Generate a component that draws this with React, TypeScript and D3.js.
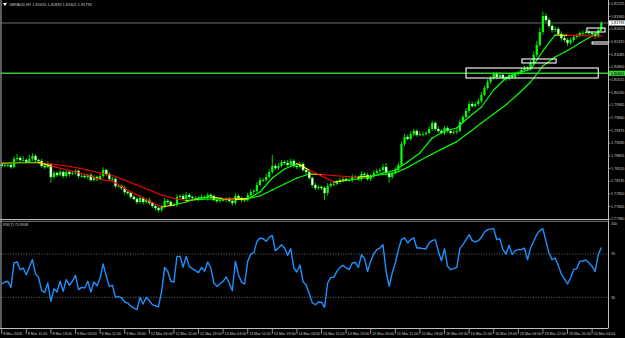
import React from 'react';
import * as d3 from 'd3';

const W = 625;
const H = 338;

const symbolTitle = 'GBPAUD,H1';
const rsiTitle = 'RSI(7)';

const timeLabels = [
  '8 Mar 2018', '8 Mar 11:00', '8 Mar 19:00', '9 Mar 03:00', '9 Mar 11:00', '9 Mar 19:00',
  '12 Mar 03:00', '12 Mar 11:00', '12 Mar 19:00', '13 Mar 03:00', '13 Mar 11:00', '13 Mar 19:00',
  '14 Mar 03:00', '14 Mar 11:00', '14 Mar 19:00', '15 Mar 03:00', '15 Mar 11:00', '15 Mar 19:00',
  '16 Mar 03:00', '16 Mar 11:00', '16 Mar 19:00', '19 Mar 04:00', '19 Mar 12:00', '19 Mar 20:00',
  '20 Mar 04:00',
];
const barsPerTimeLabel = 8;

const priceTicks = [
  1.77380, 1.77665, 1.77950, 1.78235, 1.78520, 1.78805, 1.79090, 1.79375, 1.79660,
  1.79945, 1.80230, 1.80515, 1.80800, 1.81085, 1.81370, 1.81655, 1.81940, 1.82225,
];

const rsiLevels = [70, 30];
const rsiAxisLabels = [100, 70, 30];

const firstOpen = 1.78620;
const closes = [
  1.78575, 1.78598, 1.78598, 1.78553, 1.78733, 1.78755, 1.78710, 1.78710, 1.78665, 1.78733,
  1.78800, 1.78710, 1.78688, 1.78575, 1.78553, 1.78620, 1.78328, 1.78418, 1.78373, 1.78440,
  1.78350, 1.78440, 1.78395, 1.78418, 1.78463, 1.78350, 1.78350, 1.78328, 1.78373, 1.78260,
  1.78328, 1.78283, 1.78350, 1.78485, 1.78395, 1.78283, 1.78283, 1.78125, 1.78125, 1.78080,
  1.77990, 1.77968, 1.77878, 1.77833, 1.77765, 1.77855, 1.77765, 1.77810, 1.77743, 1.77675,
  1.77630, 1.77585, 1.77653, 1.77788, 1.77765, 1.77698, 1.77698, 1.77878, 1.77900, 1.77833,
  1.77923, 1.77878, 1.77855, 1.77855, 1.77833, 1.77878, 1.77855, 1.77923, 1.77900, 1.77810,
  1.77788, 1.77810, 1.77810, 1.77833, 1.77788, 1.77743, 1.77900, 1.77855, 1.77810, 1.77810,
  1.77923, 1.77990, 1.78013, 1.78148, 1.78260, 1.78260, 1.78328, 1.78440, 1.78575, 1.78530,
  1.78575, 1.78665, 1.78643, 1.78598, 1.78688, 1.78575, 1.78553, 1.78620, 1.78485, 1.78440,
  1.78305, 1.78148, 1.78080, 1.78103, 1.78080, 1.77968, 1.78125, 1.78170, 1.78170, 1.78215,
  1.78260, 1.78283, 1.78260, 1.78260, 1.78328, 1.78328, 1.78283, 1.78395, 1.78373, 1.78283,
  1.78350, 1.78418, 1.78463, 1.78485, 1.78553, 1.78418, 1.78328, 1.78418, 1.78485, 1.78598,
  1.79070, 1.79228, 1.79183, 1.79295, 1.79363, 1.79273, 1.79295, 1.79295, 1.79318, 1.79408,
  1.79543, 1.79408, 1.79363, 1.79318, 1.79430, 1.79363, 1.79318, 1.79340, 1.79363, 1.79565,
  1.79678, 1.79813, 1.79970, 1.79925, 1.79970, 1.80038, 1.80173, 1.80330, 1.80465, 1.80555,
  1.80645, 1.80578, 1.80623, 1.80555, 1.80533, 1.80623, 1.80578, 1.80645, 1.80668, 1.80735,
  1.80780, 1.80758, 1.80893, 1.81073, 1.81298, 1.81590, 1.81950, 1.81860, 1.81725, 1.81635,
  1.81658, 1.81545, 1.81455, 1.81410, 1.81343, 1.81410, 1.81478, 1.81500, 1.81568, 1.81568,
  1.81590, 1.81568, 1.81545, 1.81500, 1.81635, 1.81793,
];

// wick lengths in pips beyond the candle body
const PIP = 0.0001;
const wickUpPips = [
  4, 5, 3, 4, 6, 9, 5, 8, 4, 10,
  6, 4, 3, 5, 4, 6, 3, 5, 4, 6,
  3, 5, 4, 6, 4, 3, 5, 4, 3, 5,
  4, 3, 5, 6, 3, 4, 5, 3, 4, 3,
  5, 4, 3, 5, 4, 6, 3, 4, 5, 3,
  4, 3, 5, 7, 4, 3, 5, 6, 4, 5,
  7, 4, 3, 5, 4, 6, 3, 5, 4, 3,
  4, 5, 3, 4, 5, 3, 6, 4, 3, 4,
  5, 6, 4, 7, 6, 5, 8, 6, 25, 5,
  6, 5, 4, 7, 5, 4, 6, 5, 4, 3,
  4, 3, 5, 4, 3, 4, 6, 4, 5, 4,
  5, 4, 3, 6, 5, 4, 3, 6, 4, 5,
  4, 6, 5, 4, 7, 9, 4, 5, 6, 5,
  6, 7, 5, 6, 5, 4, 6, 5, 4, 6,
  5, 4, 6, 4, 5, 4, 3, 5, 4, 6,
  5, 7, 6, 5, 4, 6, 7, 5, 6, 4,
  5, 4, 6, 4, 5, 4, 6, 5, 4, 5,
  6, 4, 7, 8, 9, 10, 10, 6, 5, 4,
  5, 4, 6, 5, 4, 5, 4, 5, 4, 6,
  4, 5, 4, 3, 5, 4,
];
const wickDnPips = [
  4, 3, 5, 4, 3, 4, 5, 3, 4, 3,
  4, 5, 3, 4, 5, 3, 13, 4, 5, 3,
  5, 4, 6, 3, 4, 5, 3, 4, 5, 3,
  4, 5, 3, 4, 5, 6, 4, 5, 3, 4,
  6, 5, 4, 3, 5, 4, 6, 4, 5, 4,
  6, 5, 4, 3, 5, 4, 3, 5, 4, 3,
  4, 5, 3, 4, 5, 3, 4, 6, 4, 3,
  5, 4, 3, 5, 4, 6, 4, 3, 5, 4,
  4, 3, 5, 4, 3, 5, 4, 3, 4, 5,
  4, 3, 5, 4, 3, 4, 5, 3, 4, 5,
  4, 6, 5, 4, 5, 16, 6, 4, 5, 3,
  4, 5, 3, 4, 5, 3, 4, 5, 3, 4,
  5, 4, 3, 5, 4, 6, 13, 4, 3, 5,
  4, 5, 3, 4, 5, 4, 3, 5, 4, 3,
  4, 5, 4, 3, 5, 4, 3, 4, 5, 3,
  4, 3, 5, 4, 3, 4, 5, 3, 4, 5,
  4, 5, 3, 4, 5, 4, 3, 5, 4, 3,
  4, 5, 3, 4, 5, 4, 6, 5, 4, 6,
  5, 4, 6, 5, 7, 4, 5, 4, 3, 5,
  4, 5, 4, 6, 4, 3,
];

// moving averages sampled every 4 bars (last sample on the last bar)
const maSampleStep = 4;
const maFast = [
  1.78631, 1.78643, 1.78654, 1.78658, 1.78575, 1.78508, 1.78440, 1.78373, 1.78271, 1.78238,
  1.78069, 1.77923, 1.77788, 1.77653, 1.77698, 1.77765, 1.77855, 1.77878, 1.77844, 1.77821,
  1.77833, 1.77990, 1.78305, 1.78508, 1.78631, 1.78485, 1.78350, 1.78215, 1.78249, 1.78283,
  1.78328, 1.78418, 1.78485, 1.78665, 1.78868, 1.79205, 1.79363, 1.79430, 1.79678, 1.79903,
  1.80285, 1.80555, 1.80679, 1.80746, 1.81163, 1.81523, 1.81516, 1.81509, 1.81500, 1.81496,
];
const maSlow = [
  1.78654, 1.78652, 1.78647, 1.78640, 1.78620, 1.78586, 1.78541, 1.78485, 1.78418, 1.78361,
  1.78260, 1.78148, 1.78035, 1.77923, 1.77844, 1.77799, 1.77821, 1.77833, 1.77833, 1.77828,
  1.77844, 1.77900, 1.78035, 1.78170, 1.78305, 1.78395, 1.78384, 1.78361, 1.78339, 1.78328,
  1.78350, 1.78384, 1.78418, 1.78544, 1.78697, 1.78845, 1.78989, 1.79124, 1.79329, 1.79543,
  1.79745, 1.79954, 1.80195, 1.80465, 1.80825, 1.81028, 1.81174, 1.81343, 1.81500, 1.81635,
];

const rsi = [
  42.3, 44.1, 44.8, 39.2, 61.7, 62.6, 55.5, 57.0, 50.9, 58.0,
  64.8, 51.5, 48.4, 36.1, 34.6, 43.2, 26.3, 38.0, 34.9, 44.8,
  35.5, 46.3, 41.1, 44.8, 50.3, 37.1, 39.2, 38.6, 44.8, 34.9,
  44.1, 40.7, 47.8, 60.8, 49.4, 40.1, 41.1, 30.0, 30.9, 29.4,
  25.7, 24.7, 21.7, 20.0, 18.6, 30.0, 23.8, 30.0, 26.9, 23.2,
  22.0, 21.3, 35.5, 57.7, 54.0, 44.8, 44.1, 67.8, 67.8, 57.7,
  67.8, 58.6, 56.5, 54.6, 52.8, 57.7, 54.0, 62.6, 57.1, 43.2,
  40.1, 42.5, 44.8, 48.8, 43.2, 36.1, 63.2, 50.9, 44.1, 42.3,
  63.2, 70.0, 71.0, 81.7, 84.8, 84.2, 81.7, 85.4, 87.2, 73.1,
  75.5, 78.6, 75.5, 68.8, 74.9, 57.1, 53.4, 59.8, 44.5, 41.4,
  33.5, 25.0, 23.2, 25.7, 25.5, 20.7, 43.2, 48.4, 48.4, 54.0,
  57.7, 59.5, 57.1, 55.5, 61.7, 62.2, 57.7, 69.4, 65.7, 54.0,
  63.2, 70.0, 74.0, 75.5, 78.6, 54.0, 40.1, 52.4, 61.7, 74.0,
  83.2, 84.8, 80.2, 83.2, 84.8, 75.5, 75.5, 74.9, 74.9, 80.2,
  82.3, 83.2, 72.5, 63.8, 74.9, 58.6, 55.5, 56.5, 57.7, 74.9,
  78.6, 83.2, 87.9, 82.3, 81.1, 82.3, 85.4, 90.3, 92.5, 93.0,
  93.4, 83.2, 84.2, 74.0, 70.0, 78.0, 69.4, 73.1, 74.0, 74.0,
  75.5, 64.8, 75.5, 81.7, 87.9, 91.6, 93.4, 81.7, 70.9, 64.8,
  66.3, 59.5, 51.5, 47.0, 42.3, 47.8, 55.5, 56.5, 63.2, 63.5,
  64.5, 61.7, 58.6, 54.0, 69.4, 75.9308,
];

const levelPrice = 1.80661;
// rectangles: [startBar, endBar, topPrice, bottomPrice]
const rectangles = [
  [151.0, 194.0, 1.80780, 1.80555],
  [169.2, 180.3, 1.80983, 1.80893],
  [190.3, 196.2, 1.81680, 1.81590],
  [192.0, 197.4, 1.81365, 1.81320],
];

const FONT = "'Liberation Sans', Arial, sans-serif";
const TXT = '#c8c8c8';
const LIME = '#00ff00';

function maSegments(values: number[], n: number) {
  const bars = values.map((_, i) => Math.min(i * maSampleStep, n - 1));
  const segs: { b0: number; b1: number; v0: number; v1: number; color: string }[] = [];
  let prevSign = 0;
  for (let i = 1; i < values.length; i++) {
    const d = values[i] - values[i - 1];
    const sign = d >= 0 ? 1 : -1;
    let color = sign > 0 ? LIME : '#ff0000';
    if (prevSign !== 0 && sign !== prevSign) color = '#ffff00';
    segs.push({ b0: bars[i - 1], b1: bars[i], v0: values[i - 1], v1: values[i], color });
    prevSign = sign;
  }
  return segs;
}

export default function App() {
  const n = closes.length;
  const axisX = 608.5;
  const mainBottom = 219;
  const rsiTop = 221;
  const rsiBottom = 328;

  const x = d3.scaleLinear().domain([0, n - 1]).range([1.7, 1.7 + 3.075 * (n - 1)]);
  const y = d3.scaleLinear().domain([1.773825, 1.8231]).range([mainBottom, 0]);
  const yr = d3.scaleLinear().domain([0, 100]).range([329.8, 221.5]);

  const opens = closes.map((c, i) => (i === 0 ? firstOpen : closes[i - 1]));
  const last = n - 1;
  const lastHigh = Math.max(opens[last], closes[last]) + wickUpPips[last] * PIP;
  const lastLow = Math.min(opens[last], closes[last]) - wickDnPips[last] * PIP;
  const header = `${symbolTitle}  ${opens[last].toFixed(5)} ${lastHigh.toFixed(5)} ${lastLow.toFixed(5)} ${closes[last].toFixed(5)}`;
  const bid = closes[last];

  const rsiLine = d3
    .line<number>()
    .x((_, i) => x(i))
    .y((d) => yr(d));

  const fastSegs = maSegments(maFast, n);
  const slowSegs = maSegments(maSlow, n);

  return (
    <svg width={W} height={H} style={{ position: 'absolute', left: 0, top: 0, background: '#000' }}>
      <defs>
        <clipPath id="mainClip">
          <rect x={0} y={0} width={axisX} height={mainBottom} />
        </clipPath>
        <clipPath id="rsiClip">
          <rect x={0} y={rsiTop + 0.5} width={axisX} height={rsiBottom - rsiTop - 0.5} />
        </clipPath>
      </defs>
      <rect x={0} y={0} width={W} height={H} fill="#000" />

      {/* main window */}
      <g clipPath="url(#mainClip)">
        <line x1={0} x2={axisX} y1={y(bid)} y2={y(bid)} stroke="#8c8c8c" strokeWidth={0.8} />
        <line x1={0} x2={axisX} y1={y(levelPrice)} y2={y(levelPrice)} stroke="#32cd32" strokeWidth={1.5} />
        {closes.map((c, i) => {
          const o = opens[i];
          const hi = Math.max(o, c) + wickUpPips[i] * PIP;
          const lo = Math.min(o, c) - wickDnPips[i] * PIP;
          const cx = x(i);
          const top = y(Math.max(o, c));
          const bot = y(Math.min(o, c));
          const bull = c >= o;
          return (
            <g key={i}>
              <line x1={cx} x2={cx} y1={y(hi)} y2={y(lo)} stroke={LIME} strokeWidth={0.8} />
              <rect
                x={cx - 1.1}
                y={top}
                width={2.2}
                height={Math.max(0.8, bot - top)}
                fill={bull ? LIME : '#ffffff'}
                stroke={bull ? 'none' : LIME}
                strokeWidth={0.4}
              />
            </g>
          );
        })}
        {slowSegs.map((s, i) => (
          <line key={'s' + i} x1={x(s.b0)} x2={x(s.b1)} y1={y(s.v0)} y2={y(s.v1)} stroke={s.color} strokeWidth={1.2} strokeLinecap="round" />
        ))}
        {fastSegs.map((s, i) => (
          <line key={'f' + i} x1={x(s.b0)} x2={x(s.b1)} y1={y(s.v0)} y2={y(s.v1)} stroke={s.color} strokeWidth={1.2} strokeLinecap="round" />
        ))}
        {rectangles.map((r, i) => (
          <rect
            key={'r' + i}
            x={x(r[0])}
            y={y(r[2])}
            width={x(r[1]) - x(r[0])}
            height={y(r[3]) - y(r[2])}
            fill="none"
            stroke="#ffffff"
            strokeWidth={1.1}
          />
        ))}
      </g>

      {/* header */}
      <path d="M3,3 L7,3 L5,6 Z" fill="#ffffff" />
      <text x={9} y={6.2} fontFamily={FONT} fontSize={3.9} fill={TXT}>{header}</text>

      {/* RSI window */}
      <g clipPath="url(#rsiClip)">
        {rsiLevels.map((lv) => (
          <line key={lv} x1={0} x2={axisX} y1={yr(lv)} y2={yr(lv)} stroke="#9a9a9a" strokeWidth={0.7} strokeDasharray="1,1.6" />
        ))}
        <path d={rsiLine(rsi) || ''} fill="none" stroke="#1e90ff" strokeWidth={1.4} strokeLinejoin="round" />
      </g>
      <text x={3} y={226.3} fontFamily={FONT} fontSize={3.7} fill={TXT}>{`${rsiTitle} ${rsi[last].toFixed(4)}`}</text>

      {/* frames */}
      <line x1={1} x2={1} y1={0} y2={rsiBottom} stroke="#7a7a7a" strokeWidth={1.5} />
      <line x1={axisX} x2={axisX} y1={0} y2={rsiBottom} stroke="#bdbdbd" strokeWidth={1} />
      <line x1={0} x2={axisX} y1={mainBottom + 0.5} y2={mainBottom + 0.5} stroke="#bdbdbd" strokeWidth={1} />
      <line x1={0} x2={axisX} y1={rsiTop + 0.3} y2={rsiTop + 0.3} stroke="#9a9a9a" strokeWidth={0.8} />
      <line x1={0} x2={axisX} y1={rsiBottom + 0.5} y2={rsiBottom + 0.5} stroke="#bdbdbd" strokeWidth={1} />

      {/* price axis */}
      {priceTicks.map((p) => (
        <g key={p}>
          <line x1={axisX} x2={axisX + 2} y1={y(p)} y2={y(p)} stroke={TXT} strokeWidth={0.6} />
          <text x={611} y={y(p) + 1.3} fontFamily={FONT} fontSize={3.7} fill={TXT}>{p.toFixed(5)}</text>
        </g>
      ))}
      <rect x={609} y={y(bid) - 2.6} width={16} height={5.2} fill="#ffffff" />
      <text x={611} y={y(bid) + 1.3} fontFamily={FONT} fontSize={3.7} fill="#000">{bid.toFixed(5)}</text>
      <rect x={609} y={y(levelPrice) - 2.6} width={16} height={5.2} fill="#32cd32" />
      <text x={611} y={y(levelPrice) + 1.3} fontFamily={FONT} fontSize={3.7} fill="#000">{levelPrice.toFixed(5)}</text>

      {/* rsi axis */}
      {rsiAxisLabels.map((v) => (
        <text key={v} x={611} y={(v === 100 ? yr(v) + 2.6 : yr(v)) + 1.3} fontFamily={FONT} fontSize={3.7} fill={TXT}>{v}</text>
      ))}

      {/* time axis */}
      {timeLabels.map((t, k) => {
        const tx = x(k * barsPerTimeLabel);
        return (
          <g key={t}>
            <line x1={tx} x2={tx} y1={rsiBottom + 1} y2={rsiBottom + 6} stroke={TXT} strokeWidth={0.7} />
            <text x={tx + 1.5} y={335} fontFamily={FONT} fontSize={3.7} fill={TXT}>{t}</text>
          </g>
        );
      })}
    </svg>
  );
}
